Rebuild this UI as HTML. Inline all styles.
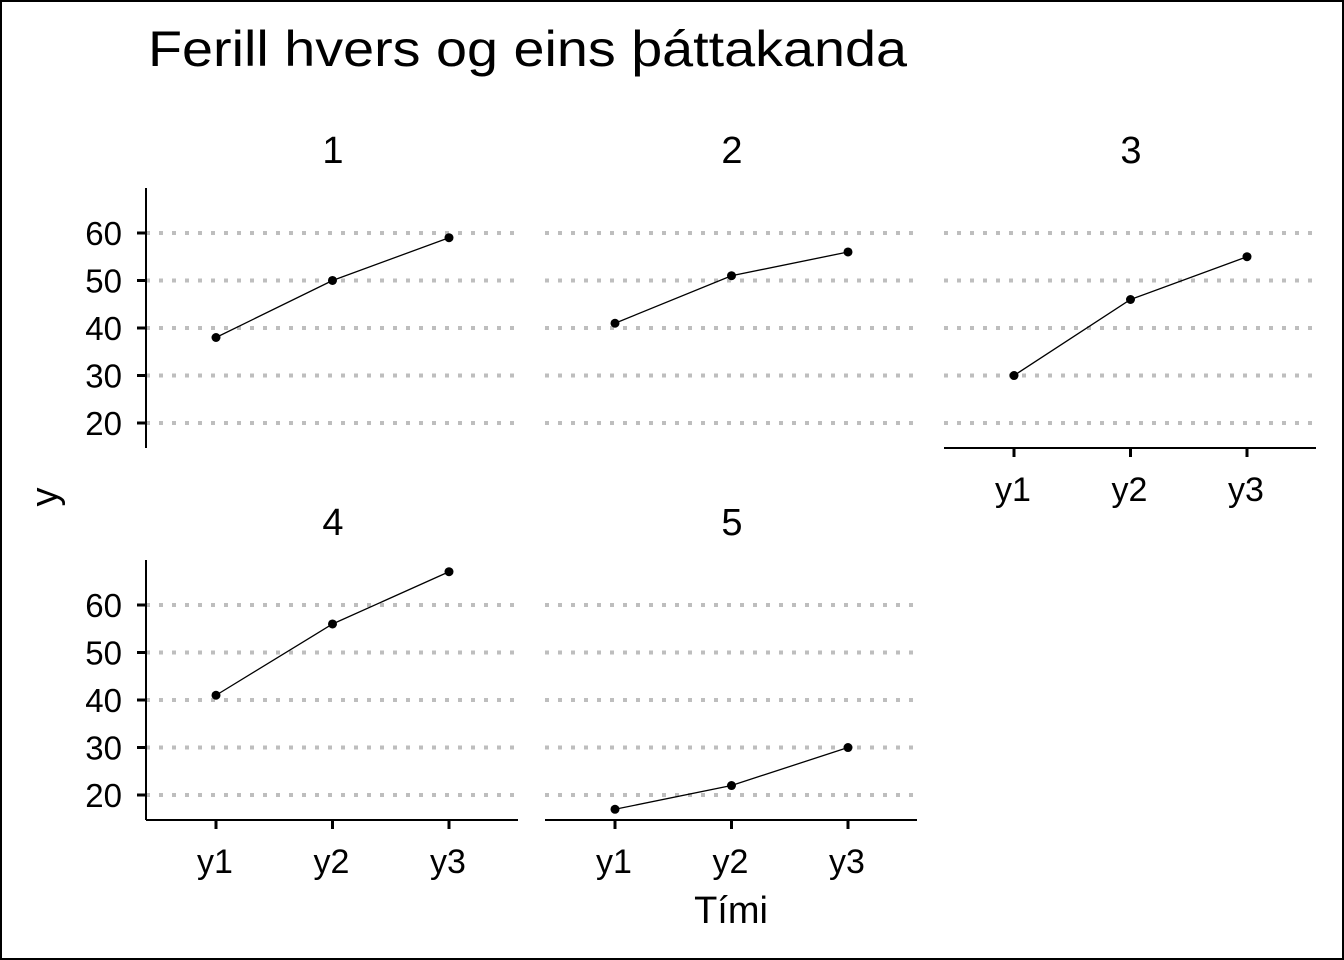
<!DOCTYPE html>
<html><head><meta charset="utf-8"><style>
html,body{margin:0;padding:0;background:#fff}
svg{display:block;font-family:"Liberation Sans",Arial,sans-serif}
</style></head><body>
<svg id="chart" width="1344" height="960" viewBox="0 0 1344 960">
<rect x="1" y="1" width="1342" height="958" fill="#fff" stroke="#000" stroke-width="2"/>
<text x="148" y="66" font-size="50" textLength="759" lengthAdjust="spacingAndGlyphs" fill="#000">Ferill hvers og eins þáttakanda</text>
<text x="731" y="923" font-size="38" text-anchor="middle">Tími</text>
<text transform="translate(57,497) rotate(-90)" font-size="38" text-anchor="middle">y</text>
<g id="panels"></g>
</svg>
<script>
const panelLabels = ["1","2","3","4","5"];
const categories = ["y1","y2","y3"];
const series1 = [38,50,59];
const series2 = [41,51,56];
const series3 = [30,46,55];
const series4 = [41,56,67];
const series5 = [17,22,30];
const yTicks = [20,30,40,50,60];
const allSeries = [series1,series2,series3,series4,series5];

const NS="http://www.w3.org/2000/svg";
const g=document.getElementById('panels');
const panelX=[146,545,944,146,545];
const panelTop=[188,188,188,560,560];
const PW=372, PH=260, ymin=14.74, ymax=69.47;
const showY=[true,false,false,true,false];
const showX=[false,false,true,true,true];
function mk(tag,attrs){const e=document.createElementNS(NS,tag);for(const k in attrs)e.setAttribute(k,attrs[k]);return e;}
allSeries.forEach((vals,p)=>{
  const x0=panelX[p], top=panelTop[p], bottom=top+PH;
  const ys=v=>bottom-(v-ymin)/(ymax-ymin)*PH;
  const xs=i=>x0+70+i*116.5;
  const pg=mk('g',{});
  
  
  g.appendChild(pg);
  const st=mk('text',{x:x0+187,y:top-25,'font-size':38,'text-anchor':'middle'});
  st.textContent=panelLabels[p];
  
  
  pg.appendChild(st);
  yTicks.forEach(t=>{
    const gl=mk('line',{x1:x0,x2:x0+PW,y1:ys(t),y2:ys(t),stroke:'#bebebe','stroke-width':4,'stroke-dasharray':'4 9'});
    
    
    pg.appendChild(gl);
    if(showY[p]){
      const tk=mk('line',{x1:x0-9,x2:x0,y1:ys(t),y2:ys(t),stroke:'#000','stroke-width':3});
      
      
      pg.appendChild(tk);
      const tl=mk('text',{x:x0-24,y:ys(t)+12,'font-size':33,'text-anchor':'end'});
      tl.textContent=t;
      
      
      pg.appendChild(tl);
    }
  });
  if(showY[p]){
    const ax=mk('line',{x1:x0,x2:x0,y1:top,y2:bottom,stroke:'#000','stroke-width':2});
    
    
    pg.appendChild(ax);
  }
  if(showX[p]){
    const ax=mk('line',{x1:x0,x2:x0+PW,y1:bottom,y2:bottom,stroke:'#000','stroke-width':2});
    
    
    pg.appendChild(ax);
    categories.forEach((c,i)=>{
      const tk=mk('line',{x1:xs(i),x2:xs(i),y1:bottom,y2:bottom+9,stroke:'#000','stroke-width':3});
      
      
      pg.appendChild(tk);
      const tl=mk('text',{x:xs(i)-1,y:bottom+53,'font-size':34,'text-anchor':'middle'});
      tl.textContent=c;
      
      
      pg.appendChild(tl);
    });
  }
  const pl=mk('polyline',{points:vals.map((v,i)=>xs(i)+','+ys(v)).join(' '),fill:'none',stroke:'#000','stroke-width':1.3});
  
  
  pg.appendChild(pl);
  vals.forEach((v,i)=>{
    const c=mk('circle',{cx:xs(i),cy:ys(v),r:4.5,fill:'#000'});
    
    
    pg.appendChild(c);
  });
});
</script>
</body></html>
